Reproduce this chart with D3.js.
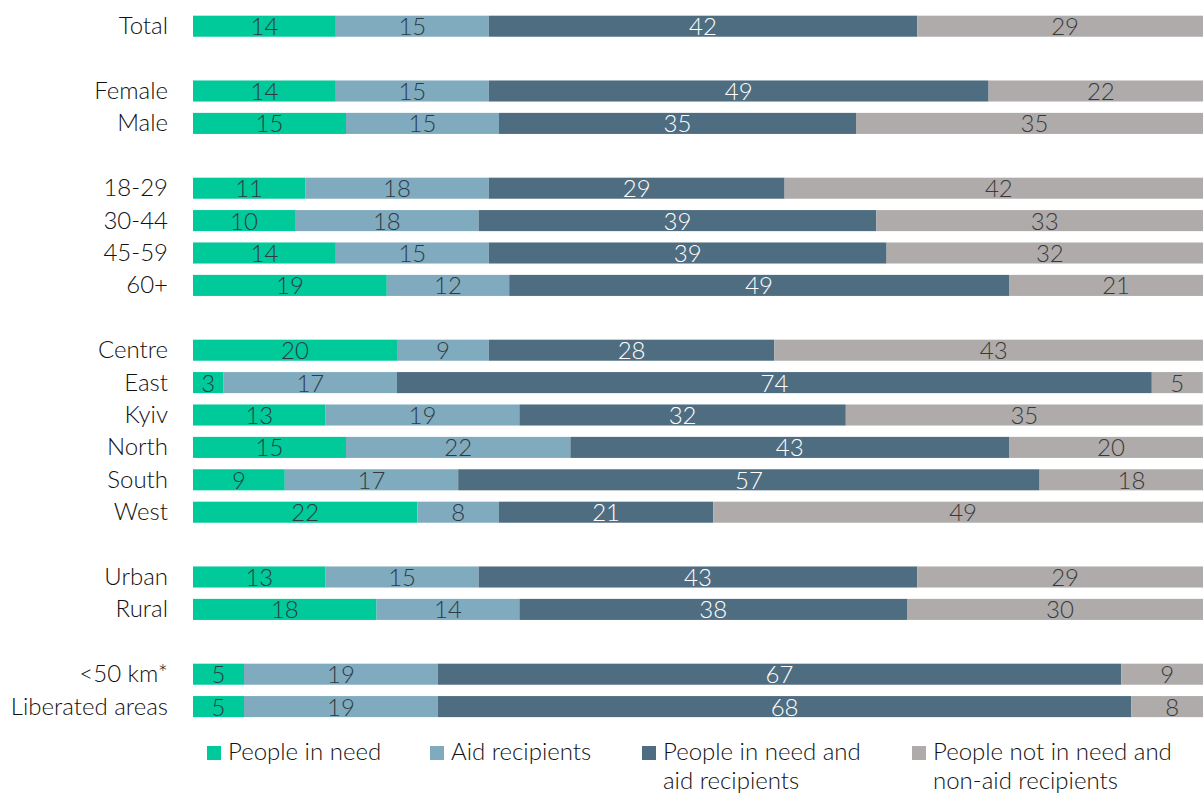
<!DOCTYPE html>
<html><head><meta charset="utf-8">
<script src="https://cdn.jsdelivr.net/npm/d3@7"></script>
<style>
html,body{margin:0;padding:0;background:#fff;overflow:hidden}
svg{display:block;font-family:Lato,"Open Sans",sans-serif}
</style></head>
<body>
<svg id="chart" width="1203" height="793"></svg>
<script>
// Row order (null = gap between groups)
const categories = ["Total", null, "Female", "Male", null, "18-29", "30-44", "45-59", "60+", null,
  "Centre", "East", "Kyiv", "North", "South", "West", null, "Urban", "Rural", null, "<50 km*", "Liberated areas"];
const seriesNames = ["People in need", "Aid recipients", "People in need and aid recipients", "People not in need and non-aid recipients"];
const inNeed      = [14, 14, 15, 11, 10, 14, 19, 20, 3, 13, 15, 9, 22, 13, 18, 5, 5];
const aidRecip    = [15, 15, 15, 18, 18, 15, 12, 9, 17, 19, 22, 17, 8, 15, 14, 19, 19];
const needAndAid  = [42, 49, 35, 29, 39, 39, 49, 28, 74, 32, 43, 57, 21, 43, 38, 67, 68];
const notNeedNoAid= [29, 22, 35, 42, 33, 32, 21, 43, 5, 35, 20, 18, 49, 29, 30, 9, 8];
const legendLines = [["People in need"], ["Aid recipients"], ["People in need and", "aid recipients"], ["People not in need and", "non-aid recipients"]];

const colors = ["#00c99a", "#80abbe", "#4f6d80", "#afabab"];
const textColors = ["#2e3b44", "#2e3b44", "#ffffff", "#3a3a3a"];

const svg = d3.select("#chart");
const keys = categories.map((c, i) => c === null ? "gap" + i : c);
const realCats = categories.filter(c => c !== null);
const rows = realCats.map((c, i) => ({cat: c, v: [inNeed[i], aidRecip[i], needAndAid[i], notNeedNoAid[i]]}));

const y = d3.scaleBand().domain(keys).range([10, 10 + 32.4 * keys.length]).paddingInner(0.35).paddingOuter(0.175);
const x = d3.scaleLinear().domain([0, 100]).range([193, 1213]);

const g = svg.append("g");
rows.forEach(r => {
  let acc = 0;
  const segs = r.v.map((v, k) => { const s = {x0: acc, x1: acc + v, v, k}; acc += v; return s; });
  const rg = g.append("g");
  rg.selectAll("rect").data(segs).join("rect")
    .attr("x", d => x(d.x0)).attr("width", d => x(d.x1) - x(d.x0))
    .attr("y", y(r.cat)).attr("height", y.bandwidth())
    .attr("fill", d => colors[d.k]);
  rg.selectAll("text").data(segs).join("text")
    .attr("x", d => (x(d.x0) + x(d.x1)) / 2)
    .attr("y", y(r.cat) + y.bandwidth() / 2 + 9)
    .attr("text-anchor", "middle")
    .attr("font-size", 24).attr("font-weight", 300)
    .attr("fill", d => textColors[d.k])
    .text(d => d.v);
  g.append("text")
    .attr("x", 168).attr("y", y(r.cat) + y.bandwidth() / 2 + 8)
    .attr("text-anchor", "end").attr("font-size", 24).attr("font-weight", 300).attr("fill", "#111")
    .text(r.cat);
});

// Legend
const legX = [207, 430, 642, 912];
const leg = svg.append("g");
seriesNames.forEach((s, i) => {
  leg.append("rect").attr("x", legX[i]).attr("y", 746).attr("width", 14).attr("height", 14).attr("fill", colors[i]);
  const t = leg.append("text").attr("x", legX[i] + 21).attr("y", 760).attr("font-size", 24).attr("font-weight", 300).attr("fill", "#111");
  legendLines[i].forEach((ln, j) => {
    t.append("tspan").attr("x", legX[i] + 21).attr("dy", j === 0 ? 0 : 29).text(ln);
  });
});
</script>
</body></html>
